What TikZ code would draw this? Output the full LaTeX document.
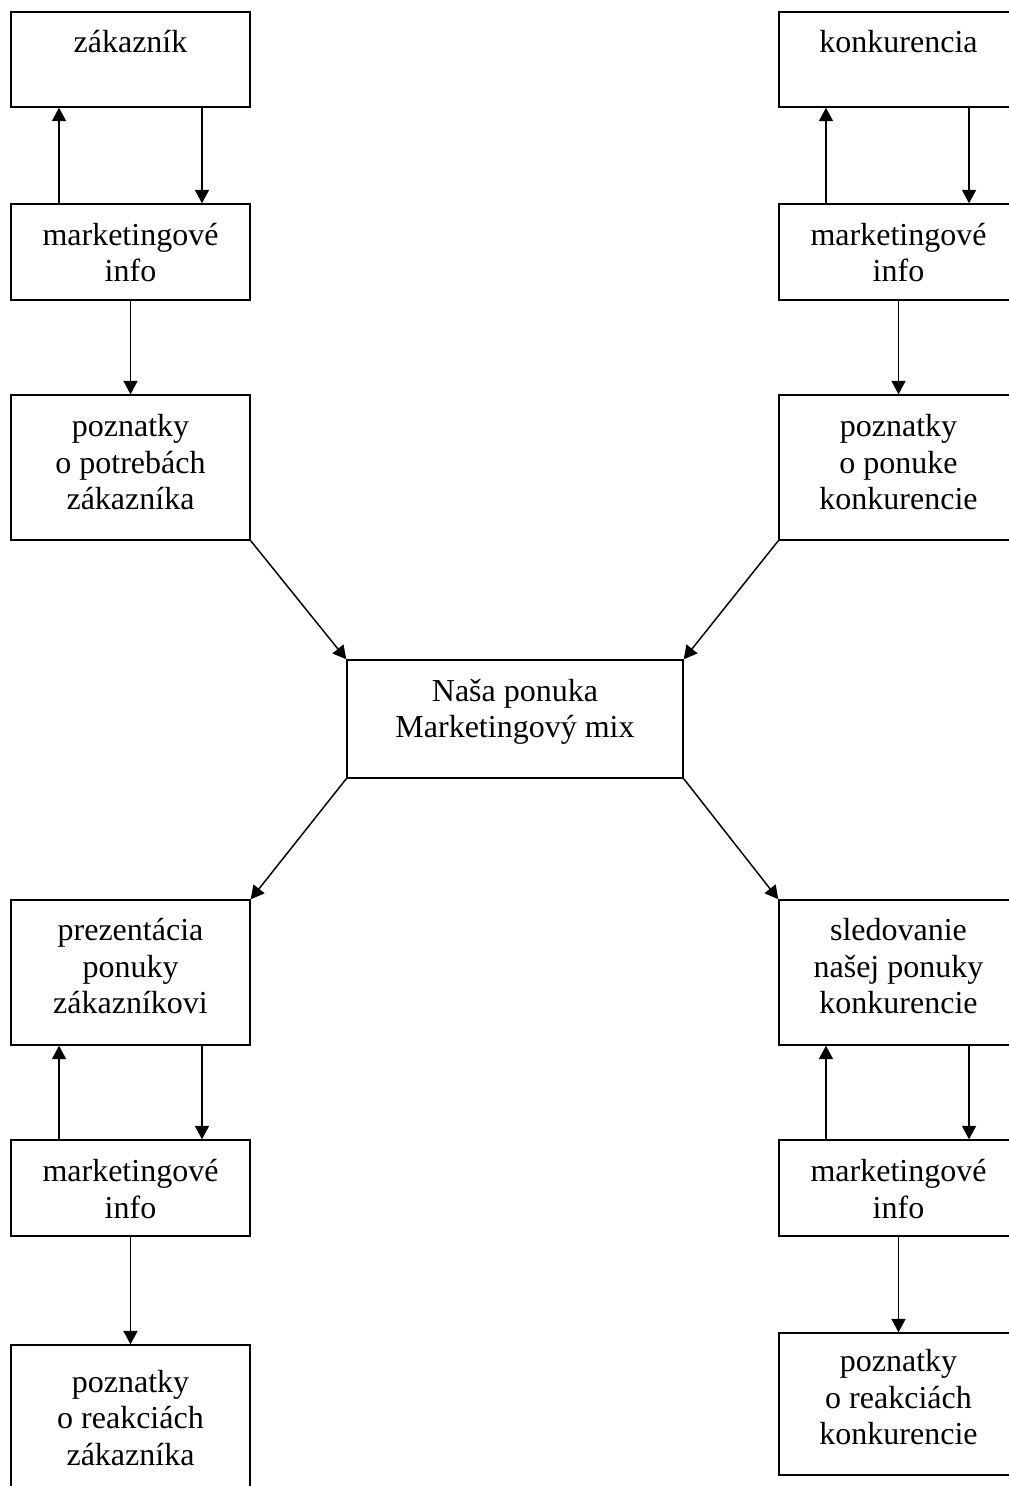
\documentclass[tikz,border=0pt]{standalone}
\usepackage{fontspec}
\setmainfont{Liberation Serif}
\usetikzlibrary{arrows.meta}
\newcommand\txtlines[2]{\raisebox{#1}[\height][\depth]{\begin{tabular}{@{}c@{}}#2\end{tabular}}}
\begin{document}
\begin{tikzpicture}[x=0.75pt,y=-0.75pt,
  box/.style={draw, line width=1.1pt, minimum width=179.25pt, inner sep=0pt,
    font=\fontsize{24}{27.3}\selectfont},
  arr/.style={line width=1.1pt, -{Triangle[length=10pt,width=10.5pt]}}]
\useasboundingbox (0,0) rectangle (1009,1486);
\clip (0,0) rectangle (1009,1486);
% left column
\node[box, minimum height=71.25pt] (zak) at (130.5,59.5) {\txtlines{-3pt}{zákazník\\~}};
\node[box, minimum height=72pt] (mi1) at (130.5,252) {\txtlines{-3.2pt}{marketingové\\info}};
\node[box, minimum height=108.75pt] (pz1) at (130.5,467.5) {\txtlines{1.1pt}{poznatky\\o potrebách\\zákazníka}};
% right column
\node[box, minimum height=71.25pt] (kon) at (898.5,59.5) {\txtlines{-3pt}{konkurencia\\~}};
\node[box, minimum height=72pt] (mi2) at (898.5,252) {\txtlines{-3.2pt}{marketingové\\info}};
\node[box, minimum height=108.75pt] (pz2) at (898.5,467.5) {\txtlines{1.1pt}{poznatky\\o ponuke\\konkurencie}};
% centre
\node[box, minimum width=252pt, minimum height=88.5pt] (mix) at (515,719) {\txtlines{4.9pt}{Naša ponuka\\Marketingový mix}};
% bottom left
\node[box, minimum height=108.75pt] (pre) at (130.5,972.5) {\txtlines{1.9pt}{prezentácia\\ponuky\\zákazníkovi}};
\node[box, minimum height=72pt] (mi3) at (130.5,1188) {\txtlines{-3.5pt}{marketingové\\info}};
\node[box, minimum height=108.75pt] (pz3) at (130.5,1417.5) {\txtlines{-3pt}{poznatky\\o reakciách\\zákazníka}};
% bottom right
\node[box, minimum height=108.75pt] (sle) at (898.5,972.5) {\txtlines{1.9pt}{sledovanie\\našej ponuky\\konkurencie}};
\node[box, minimum height=72pt] (mi4) at (898.5,1188) {\txtlines{-3.5pt}{marketingové\\info}};
\node[box, minimum height=106.5pt] (pz4) at (898.5,1404) {\txtlines{2.2pt}{poznatky\\o reakciách\\konkurencie}};
% arrows top left
\draw[arr] ([xshift=-53.6pt]mi1.north) -- ([xshift=-53.6pt]zak.south);
\draw[arr] ([xshift=53.6pt]zak.south) -- ([xshift=53.6pt]mi1.north);
\draw[arr] (mi1.south) -- (pz1.north);
% arrows top right
\draw[arr] ([xshift=-54.4pt]mi2.north) -- ([xshift=-54.4pt]kon.south);
\draw[arr] ([xshift=52.9pt]kon.south) -- ([xshift=52.9pt]mi2.north);
\draw[arr] (mi2.south) -- (pz2.north);
% diagonals
\draw[arr] (pz1.south east) -- (mix.north west);
\draw[arr] (pz2.south west) -- (mix.north east);
\draw[arr] (mix.south west) -- (pre.north east);
\draw[arr] (mix.south east) -- (sle.north west);
% arrows bottom left
\draw[arr] ([xshift=-53.6pt]mi3.north) -- ([xshift=-53.6pt]pre.south);
\draw[arr] ([xshift=53.6pt]pre.south) -- ([xshift=53.6pt]mi3.north);
\draw[arr] (mi3.south) -- (pz3.north);
% arrows bottom right
\draw[arr] ([xshift=-54.4pt]mi4.north) -- ([xshift=-54.4pt]sle.south);
\draw[arr] ([xshift=52.9pt]sle.south) -- ([xshift=52.9pt]mi4.north);
\draw[arr] (mi4.south) -- (pz4.north);
\end{tikzpicture}
\end{document}
